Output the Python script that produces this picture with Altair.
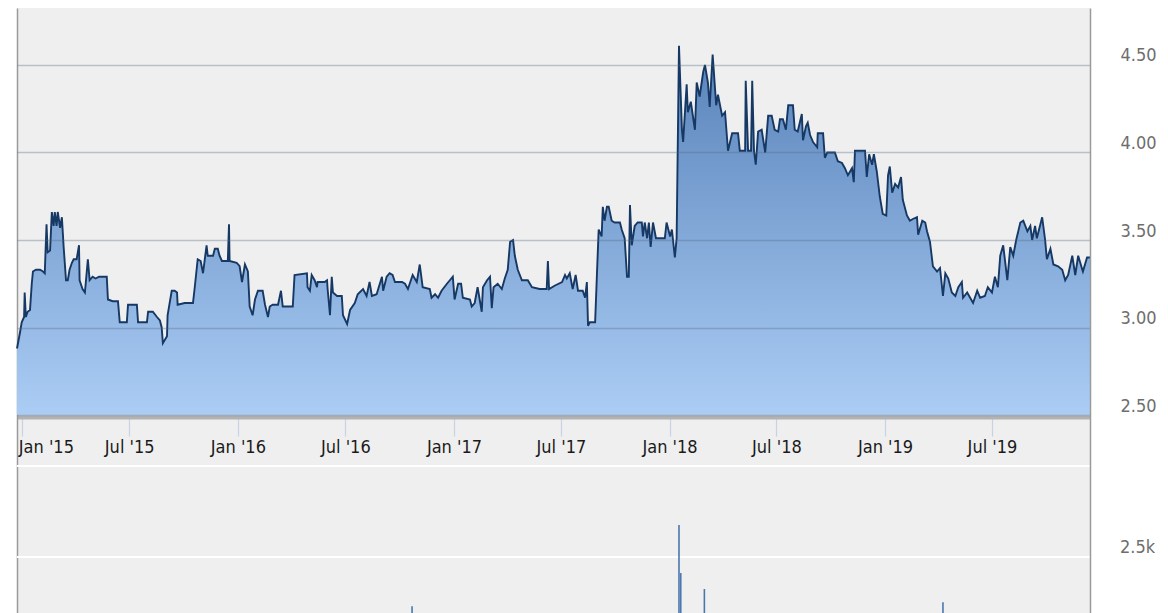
import altair as alt
import pandas as pd

# ---------------- data ----------------
# day offsets from 2015-01-01 and closing prices
day_offsets = [
    -9, -4, -1, 3, 4, 6, 9, 13, 16, 18, 23, 30, 35, 38, 41, 43, 47, 50, 53, 55,
    58, 60, 64, 67, 70, 74, 77, 80, 84, 87, 92, 96, 97, 102, 106, 111, 114, 119, 124, 130,
    136, 143, 145, 153, 162, 165, 177, 179, 194, 196, 211, 213, 221, 228, 233, 236, 238, 245, 246, 253,
    258, 262, 263, 275, 289, 292, 297, 302, 306, 312, 314, 323, 326, 331, 334, 338, 348, 350, 351, 363,
    368, 372, 377, 382, 385, 390, 394, 399, 407, 411, 416, 419, 424, 433, 438, 441, 458, 461, 482, 483,
    487, 490, 495, 499, 500, 512, 516, 517, 521, 524, 526, 533, 541, 543, 550, 555, 563, 568, 577, 583,
    588, 592, 600, 609, 611, 617, 622, 627, 631, 643, 648, 653, 661, 668, 673, 678, 690, 693, 699, 704,
    710, 719, 724, 729, 732, 738, 743, 746, 758, 761, 766, 771, 778, 780, 787, 792, 795, 798, 805, 812,
    817, 822, 826, 831, 834, 839, 846, 856, 863, 876, 888, 890, 892, 902, 914, 919, 922, 927, 932, 937,
    941, 949, 953, 956, 958, 961, 970, 973, 976, 981, 983, 986, 990, 993, 998, 1003, 1012, 1015, 1020, 1024,
    1027, 1029, 1032, 1037, 1042, 1049, 1051, 1054, 1058, 1061, 1064, 1068, 1073, 1088, 1091, 1097, 1100, 1105, 1108, 1112,
    1117, 1119, 1125, 1127, 1132, 1139, 1142, 1147, 1153, 1156, 1161, 1164, 1169, 1175, 1178, 1185, 1190, 1195, 1202, 1212,
    1215, 1224, 1225, 1229, 1234, 1236, 1239, 1242, 1246, 1252, 1258, 1263, 1269, 1274, 1280, 1283, 1288, 1293, 1297, 1305,
    1308, 1313, 1320, 1322, 1327, 1330, 1334, 1339, 1346, 1347, 1356, 1359, 1363, 1376, 1381, 1388, 1393, 1398, 1405, 1408,
    1410, 1427, 1430, 1434, 1439, 1442, 1447, 1452, 1457, 1463, 1466, 1469, 1473, 1478, 1483, 1488, 1491, 1498, 1503, 1508,
    1515, 1517, 1524, 1529, 1532, 1537, 1542, 1549, 1554, 1559, 1563, 1568, 1574, 1580, 1585, 1591, 1593, 1600, 1605, 1610,
    1617, 1622, 1630, 1635, 1642, 1647, 1652, 1656, 1661, 1668, 1673, 1678, 1683, 1690, 1695, 1702, 1707, 1710, 1715, 1718,
    1727, 1732, 1735, 1741, 1746, 1754, 1761, 1766, 1771, 1778, 1783, 1788, 1795, 1796, 1803, 1808,
]
prices = [
    2.88, 2.97, 3.03, 3.06, 3.20, 3.06, 3.09, 3.10, 3.25, 3.32, 3.33, 3.33, 3.32, 3.31, 3.59, 3.43, 3.44, 3.66, 3.58, 3.66,
    3.58, 3.66, 3.57, 3.63, 3.46, 3.27, 3.27, 3.33, 3.37, 3.39, 3.39, 3.47, 3.27, 3.22, 3.20, 3.39, 3.27, 3.29, 3.28, 3.29,
    3.29, 3.29, 3.16, 3.15, 3.15, 3.03, 3.03, 3.13, 3.13, 3.03, 3.03, 3.09, 3.09, 3.06, 3.04, 3.00, 2.91, 2.95, 3.07, 3.21,
    3.21, 3.20, 3.13, 3.14, 3.14, 3.23, 3.39, 3.38, 3.31, 3.47, 3.41, 3.41, 3.45, 3.45, 3.41, 3.38, 3.38, 3.59, 3.38, 3.37,
    3.35, 3.26, 3.36, 3.32, 3.12, 3.07, 3.16, 3.21, 3.21, 3.13, 3.06, 3.12, 3.13, 3.13, 3.21, 3.12, 3.12, 3.30, 3.31, 3.23,
    3.21, 3.30, 3.27, 3.23, 3.26, 3.26, 3.27, 3.22, 3.07, 3.29, 3.20, 3.18, 3.18, 3.07, 3.02, 3.10, 3.14, 3.19, 3.22, 3.18,
    3.26, 3.18, 3.19, 3.29, 3.21, 3.29, 3.31, 3.30, 3.26, 3.26, 3.25, 3.22, 3.30, 3.26, 3.36, 3.23, 3.22, 3.17, 3.19, 3.17,
    3.21, 3.25, 3.27, 3.29, 3.16, 3.25, 3.25, 3.17, 3.16, 3.12, 3.14, 3.23, 3.09, 3.23, 3.27, 3.29, 3.11, 3.23, 3.25, 3.22,
    3.28, 3.33, 3.49, 3.50, 3.41, 3.33, 3.27, 3.27, 3.23, 3.22, 3.22, 3.38, 3.22, 3.24, 3.26, 3.30, 3.28, 3.31, 3.22, 3.30,
    3.21, 3.21, 3.17, 3.26, 3.01, 3.03, 3.03, 3.30, 3.56, 3.52, 3.69, 3.61, 3.69, 3.69, 3.61, 3.60, 3.60, 3.56, 3.51, 3.29,
    3.29, 3.70, 3.47, 3.58, 3.60, 3.60, 3.52, 3.60, 3.51, 3.60, 3.46, 3.60, 3.51, 3.51, 3.60, 3.52, 3.56, 3.40, 3.51, 4.61,
    4.13, 4.06, 4.39, 4.23, 4.29, 4.13, 4.40, 4.32, 4.46, 4.50, 4.40, 4.26, 4.56, 4.27, 4.33, 4.21, 4.23, 4.01, 4.11, 4.11,
    4.01, 4.01, 4.41, 4.01, 4.01, 4.41, 4.01, 3.93, 4.12, 4.13, 4.00, 4.21, 4.21, 4.13, 4.12, 4.19, 4.19, 4.13, 4.27, 4.27,
    4.13, 4.12, 4.22, 4.07, 4.15, 4.17, 4.10, 4.06, 4.03, 4.11, 4.11, 3.97, 4.00, 4.00, 3.95, 3.94, 3.91, 3.87, 3.91, 3.83,
    4.01, 4.01, 3.86, 3.99, 3.93, 3.99, 3.89, 3.75, 3.65, 3.64, 3.87, 3.92, 3.77, 3.82, 3.80, 3.86, 3.73, 3.64, 3.61, 3.62,
    3.63, 3.53, 3.61, 3.60, 3.55, 3.49, 3.35, 3.32, 3.34, 3.18, 3.31, 3.28, 3.20, 3.18, 3.23, 3.26, 3.17, 3.20, 3.17, 3.14,
    3.21, 3.17, 3.18, 3.23, 3.20, 3.29, 3.23, 3.41, 3.47, 3.27, 3.46, 3.41, 3.50, 3.60, 3.61, 3.55, 3.58, 3.50, 3.58, 3.51,
    3.63, 3.50, 3.39, 3.45, 3.36, 3.35, 3.33, 3.27, 3.30, 3.41, 3.30, 3.41, 3.33, 3.32, 3.40, 3.40,
]

# volume spikes that reach into the visible part of the lower panel
vol_days = [660, 1112, 1115, 1155, 1559]
volumes = [1150, 3380, 2060, 1620, 1260]

tick_months = [(2015, 1), (2015, 7), (2016, 1), (2016, 7), (2017, 1),
               (2017, 7), (2018, 1), (2018, 7), (2019, 1), (2019, 7)]
price_ticks = [2.5, 3.0, 3.5, 4.0, 4.5]
vol_grid = [2500, 5000]
vol_labels = ["2.5k"]
vol_label_values = [2500]
vol_label_dates = ["2019-12-14"]

# ---------------- tables ----------------
base = pd.Timestamp("2015-01-01")
price_df = pd.DataFrame({"date": base + pd.to_timedelta(day_offsets, unit="D"), "price": prices})
vol_df = pd.DataFrame({"date": base + pd.to_timedelta(vol_days, unit="D"), "volume": volumes})
vgrid_df = pd.DataFrame({"v": vol_grid})
vlab_df = pd.DataFrame({"date": pd.to_datetime(vol_label_dates), "v": vol_label_values, "t": vol_labels})

FONT = "DejaVu Sans Condensed, DejaVu Sans"
x_start = alt.DateTime(year=2014, month=12, date=23)
x_end = alt.DateTime(year=2019, month=12, date=14)
xscale = alt.Scale(domain=[x_start, x_end], nice=False)
pscale = alt.Scale(domain=[1.3686, 4.8257], nice=False, zero=False)
vscale = alt.Scale(domain=[962, 17582], nice=False, zero=False)

x_axis = alt.Axis(
    values=[alt.DateTime(year=y, month=m, date=1) for y, m in tick_months],
    format="%b '%y", title=None, orient="bottom", offset=-196,
    domain=True, domainColor="#b2b2b2", domainWidth=4,
    ticks=True, tickSize=19, tickColor="#c6d3e6", tickWidth=1.2,
    labelPadding=2, labelBaseline="top", labelFont=FONT, labelFontSize=18,
    labelColor="#1a1a1a", labelFlush=10, labelFlushOffset=4, grid=False,
)
x_enc = alt.X("date:T", scale=xscale, axis=x_axis)

p_axis = alt.Axis(
    orient="right", values=price_ticks, format=".2f", title=None,
    grid=True, gridColor="#4f6a85", gridOpacity=0.35, gridWidth=1.5,
    ticks=False, domain=True, domainColor="#9a9a9a", domainWidth=1.5,
    labelPadding=30, labelFont=FONT, labelFontSize=18, labelColor="#6e6e6e",
    labelBaseline="bottom", labelAlign="left", zindex=1,
)
v_axis = alt.Axis(orient="left", title=None, labels=False, ticks=False, grid=False,
                  domain=True, domainColor="#9a9a9a", domainWidth=1.5)

gradient = alt.Gradient(
    gradient="linear",
    stops=[alt.GradientStop(color="#5882b9", offset=0),
           alt.GradientStop(color="#abcdf5", offset=1)],
    x1=1, x2=1, y1=0, y2=1,
)

area = alt.Chart(price_df).mark_area(color=gradient).encode(
    x=x_enc, y=alt.Y("price:Q", scale=pscale, axis=p_axis), y2=alt.datum(2.5)
)
line = alt.Chart(price_df).mark_line(color="#163864", strokeWidth=1.9).encode(
    x=x_enc, y=alt.Y("price:Q", scale=pscale, axis=p_axis)
)

vgrid = alt.Chart(vgrid_df).mark_rule(color="white", strokeWidth=2).encode(
    y=alt.Y("v:Q", scale=vscale, axis=v_axis)
)
bars = alt.Chart(vol_df).mark_rule(color="#4a77ae", strokeWidth=1.6, clip=True).encode(
    x=x_enc, y=alt.Y("volume:Q", scale=vscale, axis=v_axis), y2=alt.datum(0)
)
vlabel = alt.Chart(vlab_df).mark_text(
    align="left", baseline="bottom", dx=30, font=FONT, fontSize=18, color="#6e6e6e"
).encode(x=x_enc, y=alt.Y("v:Q", scale=vscale, axis=v_axis), text="t:N")

vol_layer = alt.layer(vgrid, bars, vlabel)
price_layer = alt.layer(area, line)

chart = alt.layer(vol_layer, price_layer).resolve_scale(y="independent").properties(
    width=1073, height=605,
    padding={"left": 9, "top": 0, "right": 70, "bottom": 0},
    autosize=alt.AutoSizeParams(type="none"),
    background="white",
).configure_view(fill="#efefef", stroke=None)

chart.save("out.html", embed_options={"renderer": "svg", "actions": False})
